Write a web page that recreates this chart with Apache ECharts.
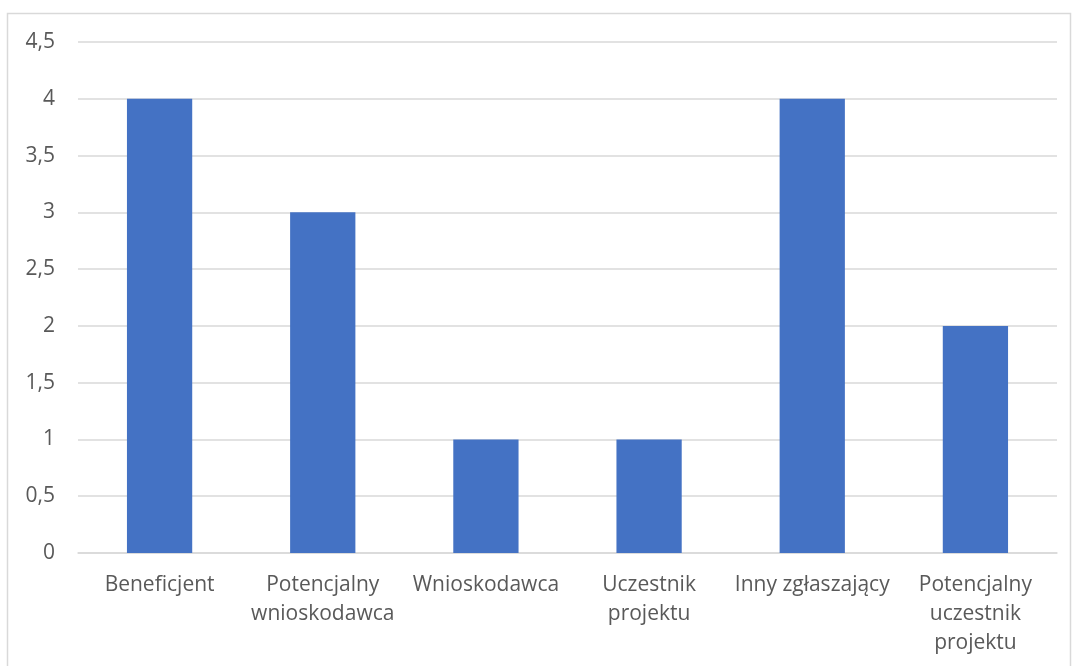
<!DOCTYPE html>
<html>
<head>
<meta charset="utf-8">
<script src="https://cdn.jsdelivr.net/npm/echarts@6/dist/echarts.min.js"></script>
<style>html,body{margin:0;padding:0;background:#fff}#c{width:1072px;height:666px}</style>
</head>
<body>
<div id="c"></div>
<script>
const categories = ["Beneficjent", "Potencjalny\nwnioskodawca", "Wnioskodawca", "Uczestnik\nprojektu", "Inny zgłaszający", "Potencjalny\nuczestnik\nprojektu"];
const values = [4, 3, 1, 1, 4, 2];
const yMin = 0, yMax = 4.5, yStep = 0.5;

const chart = echarts.init(document.getElementById('c'), null, {renderer: 'canvas'});
const font = "'Open Sans', sans-serif";
chart.setOption({
  animation: false,
  graphic: [{
    type: 'rect', shape: {x: 7.5, y: 13.5, width: 1063, height: 700},
    style: {fill: 'none', stroke: '#d9d9d9', lineWidth: 1.5}, silent: true
  }],
  grid: {left: 78, right: 15, top: 42, bottom: 113, containLabel: false},
  xAxis: {
    type: 'category', data: categories,
    axisLine: {show: true, lineStyle: {color: '#d9d9d9', width: 1.5}},
    axisTick: {show: false},
    axisLabel: {color: '#595959', fontFamily: font, fontSize: 21, lineHeight: 29, margin: 18, interval: 0}
  },
  yAxis: {
    type: 'value', min: yMin, max: yMax, interval: yStep,
    axisLine: {show: false}, axisTick: {show: false},
    splitLine: {lineStyle: {color: '#d9d9d9', width: 1.5}},
    axisLabel: {color: '#595959', fontFamily: font, fontSize: 21, margin: 23,
      formatter: v => String(v).replace('.', ',')}
  },
  series: [{
    type: 'bar', data: values, barWidth: '40%',
    itemStyle: {color: '#4472C4'}
  }]
});
</script>
</body>
</html>
